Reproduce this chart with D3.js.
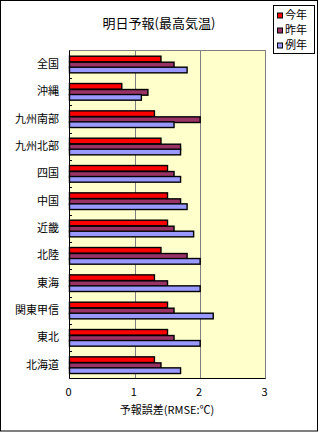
<!DOCTYPE html>
<html>
<head>
<meta charset="utf-8">
<script src="https://cdn.jsdelivr.net/npm/d3@7"></script>
<style>
  body { margin: 0; background: #fff; }
  text { font-family: "Noto Sans CJK JP", sans-serif; fill: #000; }
</style>
</head>
<body>
<script>
// data
var regions = ['全国','沖縄','九州南部','九州北部','四国','中国','近畿','北陸','東海','関東甲信','東北','北海道'];
var seriesNames = ['今年','昨年','例年'];
var thisYear = [1.4,0.8,1.3,1.4,1.5,1.5,1.5,1.4,1.3,1.5,1.5,1.3];
var lastYear = [1.6,1.2,2.0,1.7,1.6,1.7,1.6,1.8,1.5,1.6,1.6,1.4];
var normalYear = [1.8,1.1,1.6,1.7,1.7,1.8,1.9,2.0,2.0,2.2,2.0,1.7];
var xTicks = [0,1,2,3];
var colors = ['#ff0000','#993366','#9999ff'];

var W = 320, H = 432;
var plot = { left: 69.5, right: 265.5, top: 50.5, bottom: 378.5 };

var svg = d3.select('body').append('svg').attr('width', W).attr('height', H);

// chart frame
svg.append('rect').attr('x', 0.5).attr('y', 0.5).attr('width', 317).attr('height', 430.5)
  .attr('fill', '#fff').attr('stroke', '#000');

svg.append('text').attr('x', 159).attr('y', 28).attr('text-anchor', 'middle')
  .style('font-size', '13px').text('明日予報(最高気温)');

var x = d3.scaleLinear().domain([0, 3]).range([plot.left, plot.right]);
var y = d3.scaleBand().domain(regions).range([plot.top, plot.bottom]).paddingInner(0.38).paddingOuter(0.19);
var ySub = d3.scaleBand().domain(seriesNames).range([0, y.bandwidth()]);

// plot background
svg.append('rect').attr('x', plot.left).attr('y', plot.top)
  .attr('width', plot.right - plot.left).attr('height', plot.bottom - plot.top)
  .attr('fill', '#ffffcc').attr('stroke', '#808080');

// gridlines
svg.append('g').selectAll('line').data(xTicks.slice(1, 3)).join('line')
  .attr('x1', function(d){ return Math.round(x(d)) + 0.5; })
  .attr('x2', function(d){ return Math.round(x(d)) + 0.5; })
  .attr('y1', plot.top).attr('y2', plot.bottom)
  .attr('stroke', '#808080');

// bars
var rows = regions.map(function(r, i){
  return { region: r, vals: [thisYear[i], lastYear[i], normalYear[i]] };
});
var g = svg.append('g').selectAll('g').data(rows).join('g')
  .attr('transform', function(d){ return 'translate(0,' + y(d.region) + ')'; });
g.selectAll('rect').data(function(d){
    return d.vals.map(function(v, k){ return { name: seriesNames[k], v: v, k: k }; });
  }).join('rect')
  .attr('x', x(0))
  .attr('y', function(d){ return Math.round(ySub(d.name)) + 0.5; })
  .attr('width', function(d){ return x(d.v) - x(0); })
  .attr('height', ySub.bandwidth())
  .attr('fill', function(d){ return colors[d.k]; })
  .attr('stroke', '#000').attr('stroke-width', 1.4);

// axes
svg.append('line').attr('x1', plot.left).attr('x2', plot.left).attr('y1', plot.top).attr('y2', plot.bottom)
  .attr('stroke', '#000');
svg.append('line').attr('x1', plot.left).attr('x2', plot.right).attr('y1', plot.bottom).attr('y2', plot.bottom)
  .attr('stroke', '#000');

// category tick marks (inside)
var bounds = regions.slice(1).map(function(r){ return y(r) - y.step() * y.paddingInner() / 2; });
svg.append('g').selectAll('line').data(bounds).join('line')
  .attr('x1', plot.left).attr('x2', plot.left + 2.5)
  .attr('y1', function(d){ return Math.round(d) + 0.5; })
  .attr('y2', function(d){ return Math.round(d) + 0.5; })
  .attr('stroke', '#000');

// category labels
svg.append('g').selectAll('text').data(regions).join('text')
  .attr('x', 59).attr('y', function(d){ return y(d) + y.bandwidth() / 2; })
  .attr('dy', '0.35em').attr('text-anchor', 'end')
  .style('font-size', '11px').text(function(d){ return d; });

// x tick labels
svg.append('g').selectAll('text').data(xTicks).join('text')
  .attr('x', function(d){ return x(d) - 1; }).attr('y', 396)
  .attr('text-anchor', 'middle').style('font-size', '11px')
  .text(function(d){ return d; });

svg.append('text').attr('x', 167).attr('y', 414).attr('text-anchor', 'middle')
  .style('font-size', '11px').text('予報誤差(RMSE:℃)');

// legend
var lg = svg.append('g');
lg.append('rect').attr('x', 273.5).attr('y', 5.5).attr('width', 41).attr('height', 48)
  .attr('fill', '#fff').attr('stroke', '#000');
var li = lg.selectAll('g').data(seriesNames).join('g')
  .attr('transform', function(d, i){ return 'translate(277,' + (15.5 + i * 15) + ')'; });
li.append('rect').attr('x', 0.5).attr('y', -2.5).attr('width', 5).attr('height', 5)
  .attr('fill', function(d, i){ return colors[i]; }).attr('stroke', '#000');
li.append('text').attr('x', 8).attr('y', 0).attr('dy', '0.36em')
  .style('font-size', '11px').text(function(d){ return d; });
</script>
</body>
</html>
